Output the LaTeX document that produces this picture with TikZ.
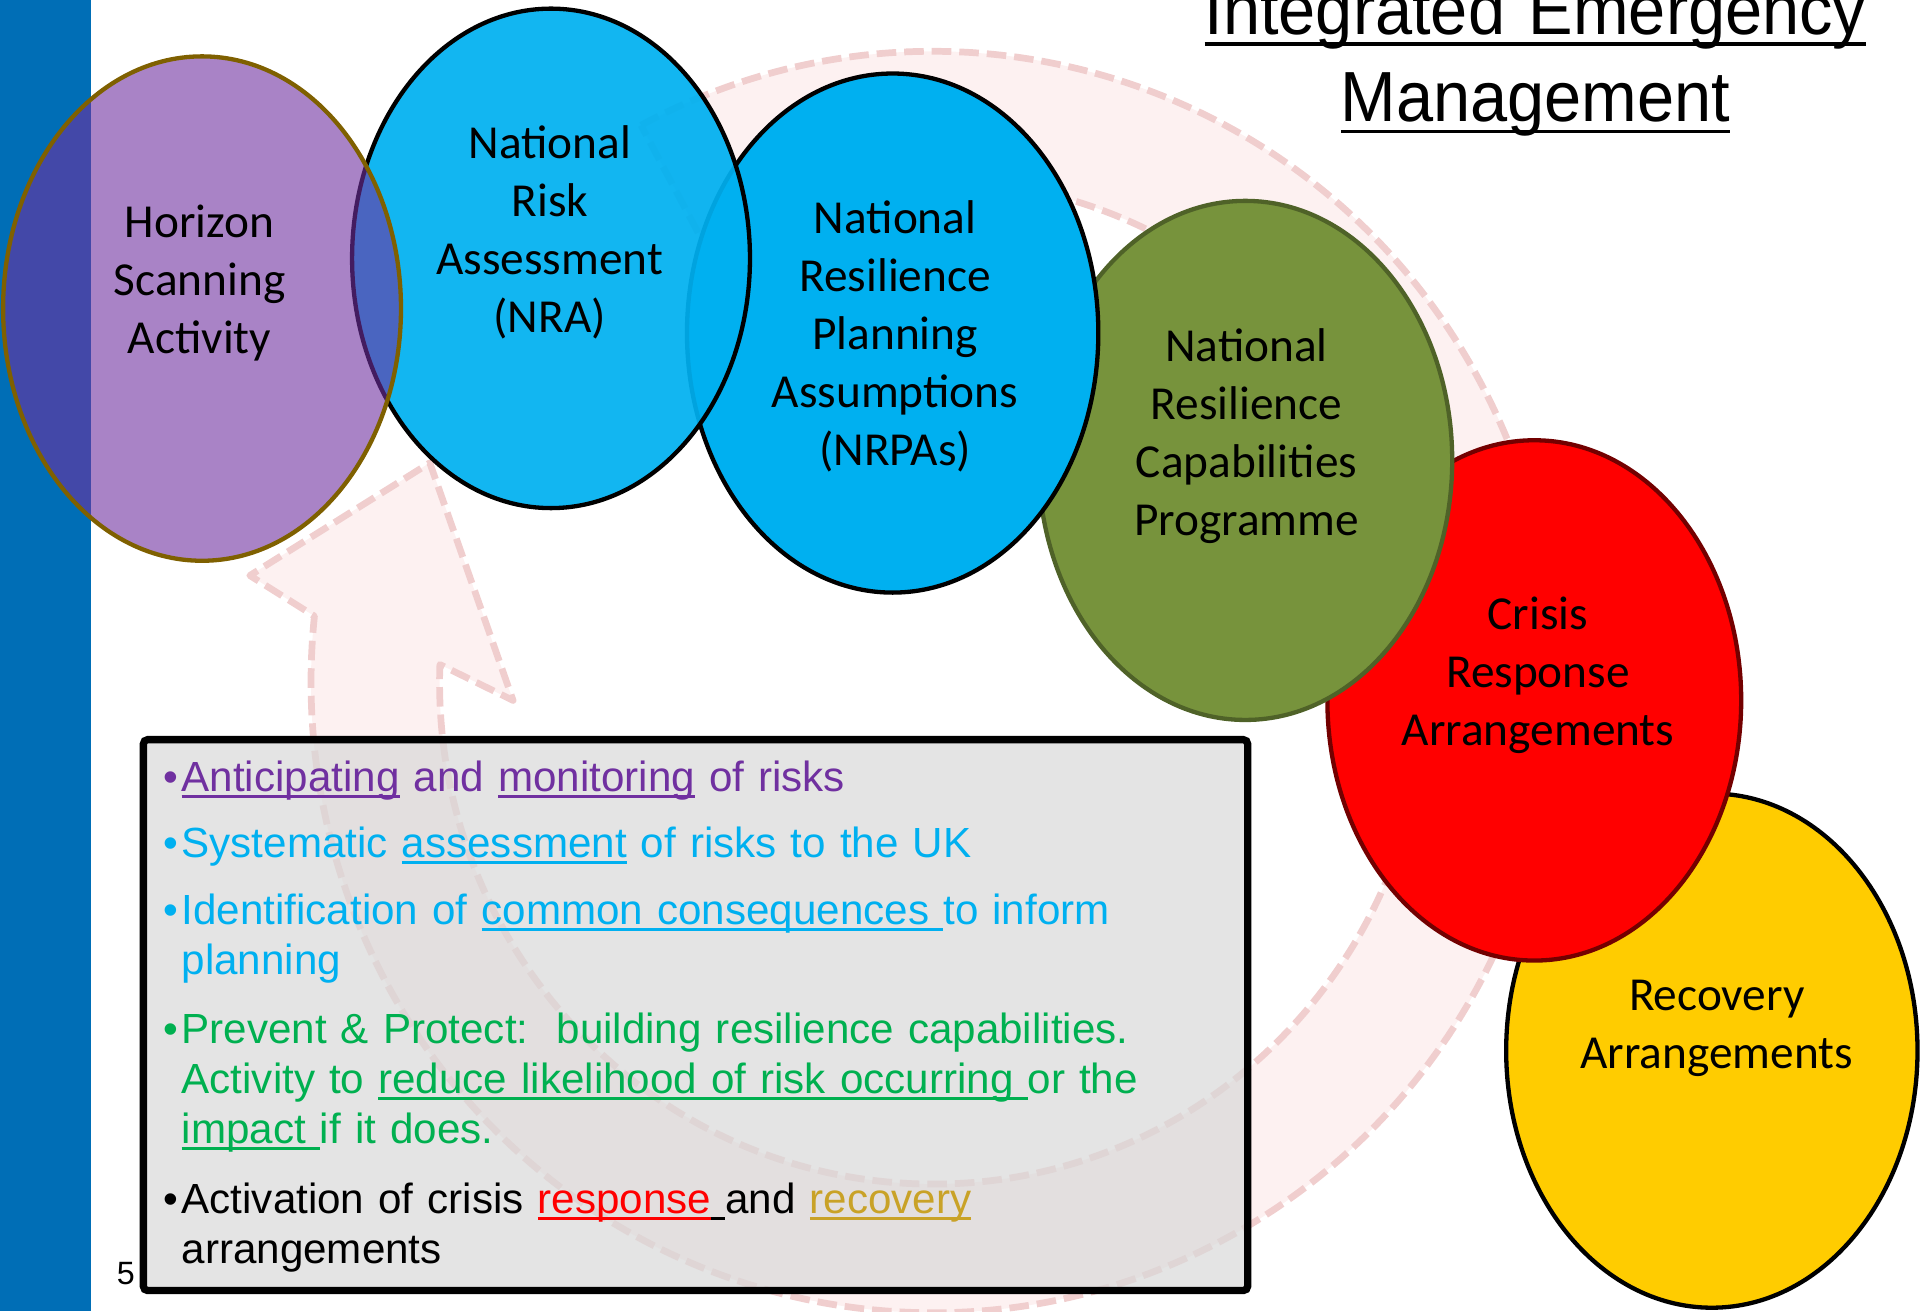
\documentclass[tikz,border=0pt]{standalone}
\usepackage{fontspec}
\usetikzlibrary{shapes.geometric, calc}
\setmainfont{Liberation Sans}
\newfontfamily\calib{Carlito}
\newfontfamily\titlef[FakeStretch=0.94]{Liberation Sans}
\definecolor{barblue}{RGB}{0,110,182}
\definecolor{hsapurple}{RGB}{112,48,160}
\definecolor{hsaline}{RGB}{127,96,0}
\definecolor{nracyan}{RGB}{0,176,240}
\definecolor{capgreen}{RGB}{119,147,60}
\definecolor{capline}{RGB}{79,98,40}
\definecolor{crisisred}{RGB}{255,0,0}
\definecolor{crisisline}{RGB}{115,0,0}
\definecolor{recyellow}{RGB}{255,204,0}
\definecolor{ringfill}{RGB}{253,241,241}
\definecolor{ringline}{RGB}{240,206,206}
\definecolor{boxgray}{RGB}{216,216,216}
\definecolor{ptpurple}{RGB}{112,48,160}
\definecolor{ptcyan}{RGB}{0,176,240}
\definecolor{ptgreen}{RGB}{0,176,80}
\definecolor{ptgold}{RGB}{201,162,39}
\newlength{\ulndepth}
\setlength{\ulndepth}{3.1pt}
\newcommand{\ulnthick}{1.6pt}
\newsavebox{\ulnbox}
\newcommand{\uln}[1]{\leavevmode\sbox{\ulnbox}{#1}\rlap{\rule[-\ulndepth]{\wd\ulnbox}{\ulnthick}}\usebox{\ulnbox}}
\newcommand{\pointmark}{\llap{\textbullet\kern1.5pt}}
\tikzstyle{bubble} = [ellipse, draw, line width=2pt, inner sep=0pt]
\tikzstyle{bubbletext} = [text width=7cm, align=center, anchor=base, inner sep=0pt, font=\calib\fontsize{22}{27}\selectfont]
\tikzstyle{infobox} = [rectangle, draw=black, line width=3.4pt, fill=boxgray, fill opacity=0.7, rounded corners=2pt, minimum width=18.04cm, minimum height=9cm]
\tikzstyle{point} = [anchor=base west, inner sep=0pt, text width=17cm, align=left, font=\fontsize{19.6}{23.3}\selectfont]
\tikzstyle{ring} = [fill=ringfill, draw=ringline, line width=0.11cm, dash pattern=on 0.32cm off 0.13cm, line join=round]

\begin{document}
\begin{tikzpicture}[x=0.02cm, y=-0.02cm]
\useasboundingbox (0,0) rectangle (1568,1071);

\fill[barblue] (0,0) rectangle (74.5,1071);

\coordinate (ringc) at (762,557);
\path[ring] ($(ringc)+(-118:508 and 515)$) arc[start angle=-118, end angle=186, x radius=508, y radius=515] -- (204,470) -- (351,378) -- (419,572) -- ($(ringc)+(182:403 and 410)$) arc[start angle=182, end angle=-118, x radius=403, y radius=410] -- cycle;

\node (box) [infobox] at (568,829) {};
\node (anticip) [point, text=ptpurple] at (148,646.5) {\pointmark\uln{Anticipating} and \uln{monitoring} of risks};
\node (assess) [point, text=ptcyan] at (148,700.5) {\pointmark Systematic \uln{assessment} of risks to the UK};
\node (conseq) [point, text=ptcyan] at (148,755) {\pointmark Identification of \uln{common consequences\ }to inform\\planning};
\node (prevent) [point, text=ptgreen] at (148,852) {\pointmark Prevent \& Protect:\ \ building resilience capabilities.\\Activity to \uln{reduce likelihood of risk occurring\ }or the\\\uln{impact\ }if it does.};
\node (activ) [point, text=black] at (148,991) {\pointmark Activation of crisis \textcolor{crisisred}{\uln{response}}\uln{\ }and \textcolor{ptgold}{\uln{recovery}}\\arrangements};
\node (pagenum) [anchor=base west, inner sep=0pt, font=\fontsize{15}{18}\selectfont] at (95,1049) {5};

\node (recov) [bubble, fill=recyellow, draw=black, minimum width=6.72cm, minimum height=8.4cm] at (1398,858) {};
\node (crisis) [bubble, fill=crisisred, draw=crisisline, minimum width=6.76cm, minimum height=8.5cm] at (1253,572) {};
\node (nrcp) [bubble, fill=capgreen, draw=capline, minimum width=6.76cm, minimum height=8.48cm] at (1017,376) {};
\node (nrpa) [bubble, fill=nracyan, draw=black, minimum width=6.72cm, minimum height=8.48cm] at (729,272) {};
\node (nra) [bubble, fill=nracyan, fill opacity=0.93, draw=black, minimum width=6.5cm, minimum height=8.16cm] at (450,211) {};
\node (hsa) [bubble, fill=hsapurple, fill opacity=0.6, draw=hsaline, minimum width=6.5cm, minimum height=8.24cm] at (165,252) {};

\node (hsatext) [bubbletext] at (163,194) {Horizon\\Scanning\\Activity};
\node (nratext) [bubbletext] at (449,129.5) {National\\Risk\\Assessment\\(NRA)};
\node (nrpatext) [bubbletext] at (731,190.5) {National\\Resilience\\Planning\\Assumptions\\(NRPAs)};
\node (nrcptext) [bubbletext] at (1018,295) {National\\Resilience\\Capabilities\\Programme};
\node (crisistext) [bubbletext] at (1256,514) {Crisis\\Response\\Arrangements};
\node (recovtext) [bubbletext] at (1402,825) {Recovery\\Arrangements};

\node (title) [anchor=base, inner sep=0pt, text width=12cm, align=center, font=\titlef\fontsize{33}{40.5}\selectfont\setlength{\ulndepth}{5.6pt}\renewcommand{\ulnthick}{1.8pt}] at (1254,28) {\uln{Integrated Emergency}\\\uln{Management}};

\end{tikzpicture}
\end{document}
